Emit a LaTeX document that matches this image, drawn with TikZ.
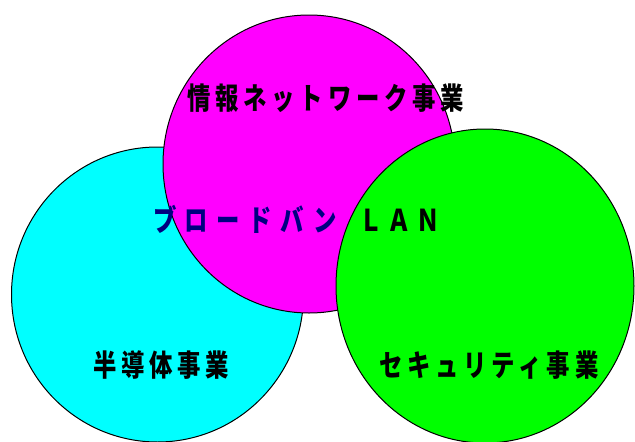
\documentclass[tikz,border=0pt]{standalone}
\usepackage{fontspec}
\newfontfamily\jp[FakeStretch=0.78,LetterSpace=16]{Noto Sans CJK JP}
\definecolor{cy}{RGB}{0,255,255}
\definecolor{mg}{RGB}{255,0,255}
\definecolor{gr}{RGB}{0,255,0}
\definecolor{nv}{RGB}{0,0,128}
\tikzset{
  blob/.style={draw=black, line width=1pt},
  lbl/.style={anchor=west, inner sep=0pt, font=\jp\bfseries\fontsize{30}{30}\selectfont}
}
\begin{document}
\begin{tikzpicture}[x=1pt,y=-1pt]
\useasboundingbox (0,0) rectangle (635,442);
\begin{scope}
\clip (0,0) rectangle (635,442);
\draw[blob, fill=cy] (157.5,294.5) ellipse [x radius=146pt, y radius=147.5pt];
\draw[blob, fill=mg] (309,164) ellipse [x radius=146pt, y radius=149pt];
\draw[blob, fill=gr] (485,286) ellipse [x radius=149pt, y radius=157pt];
\end{scope}
\node[lbl] (info) at (187,98) {情報ネットワーク事業};
\node[lbl] (lan) at (153,219) {{\addfontfeature{LetterSpace=28}\textcolor{nv}{ブロードバン}}\hspace{23pt}ＬＡＮ};
\node[lbl] (semi) at (93,365) {半導体事業};
\node[lbl] (sec) at (379,365) {セキュリティ事業};
\end{tikzpicture}
\end{document}
